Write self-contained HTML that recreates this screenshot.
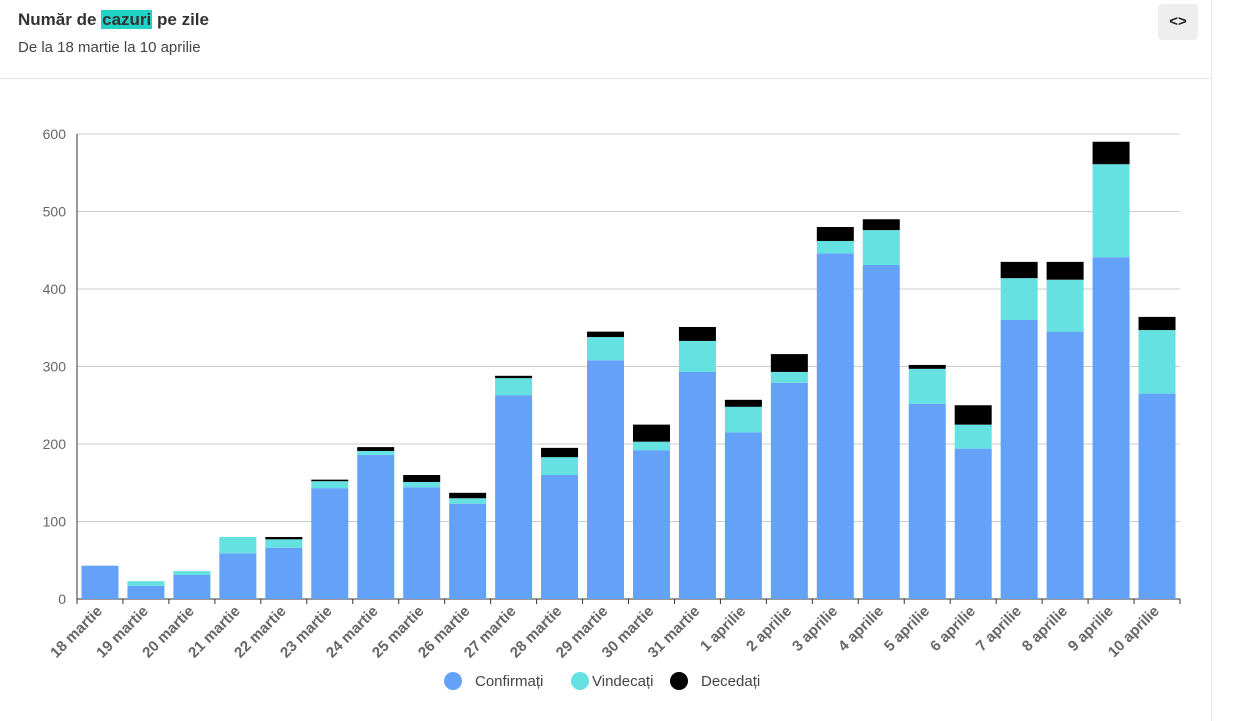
<!DOCTYPE html>
<html><head><meta charset="utf-8"><style>
body{margin:0;width:1245px;height:721px;background:#fff;font-family:"Liberation Sans",sans-serif;overflow:hidden;position:relative}
.h{position:absolute;left:18px;top:10px;font-size:17px;font-weight:900;color:#333}
.h span{background:#1fd3c6;padding:0 1px}
.s{position:absolute;left:18px;top:39px;font-size:15px;color:#444}
.btn{position:absolute;left:1158px;top:4px;width:40px;height:36px;background:#eee;border-radius:4px;text-align:center;line-height:36px;font-weight:bold;color:#222;font-size:15px}
.sep{position:absolute;left:0;top:78px;width:1211px;height:1px;background:#e6e6ee}
.vr{position:absolute;left:1211px;top:0;width:1px;height:721px;background:#e6e6ee}
</style></head><body>
<div class="h">Număr de <span>cazuri</span> pe zile</div>
<div class="s">De la 18 martie la 10 aprilie</div>
<div class="btn">&lt;&gt;</div>
<div class="sep"></div><div class="vr"></div>
<svg id="c" width="1245" height="721" style="position:absolute;left:0;top:0"></svg>
<script>
const s=document.getElementById('c');let h='';
const y0=599,k=0.775;
for(let v=0;v<=600;v+=100){const y=y0-v*k;h+=`<line x1="77" x2="1180" y1="${y}" y2="${y}" stroke="${v?'#ccc':'#333'}"/>`;h+=`<text x="66" y="${y+5}" text-anchor="end" font-size="14" fill="#666">${v}</text>`}
h+=`<line x1="77" x2="77" y1="134" y2="599" stroke="#333"/>`;
const d=[[43,43,43],[17,23,23],[31,36,36],[59,80,80],[66,77,80],[143,152,154],[186,191,196],[144,151,160],[123,130,137],[263,285,288],[160,183,195],[308,338,345],[192,203,225],[293,333,351],[215,248,257],[279,293,316],[446,462,480],[431,476,490],[252,297,302],[194,225,250],[360,414,435],[345,412,435],[441,561,590],[265,347,364]];
const L=[];for(let i=18;i<=31;i++)L.push(i+' martie');for(let i=1;i<=10;i++)L.push(i+' aprilie');
const st=(1180-77)/24;
d.forEach((r,i)=>{const x=77+st*i+(st-37)/2;const cx=77+st*(i+0.5);
const seg=[[0,r[0],'#64a2f9'],[r[0],r[1],'#64e1e0'],[r[1],r[2],'#000']];
seg.forEach(([a,b,c])=>{if(b>a)h+=`<rect x="${x}" y="${y0-b*k}" width="37" height="${(b-a)*k}" fill="${c}"/>`});
h+=`<line x1="${77+st*i}" x2="${77+st*i}" y1="599" y2="604" stroke="#333"/>`;
h+=`<text transform="translate(${cx+3},${612}) rotate(-45)" text-anchor="end" font-size="15" font-weight="bold" fill="#666">${L[i]}</text>`;});
h+=`<line x1="1180" x2="1180" y1="599" y2="604" stroke="#333"/>`;
[[453,'Confirmați','#64a2f9',475],[580,'Vindecați','#64e1e0',592],[679,'Decedați','#000',701]].forEach(([x,t,c,tx])=>{h+=`<circle cx="${x}" cy="681" r="9" fill="${c}"/><text x="${tx}" y="686" font-size="15" fill="#444">${t}</text>`});
s.innerHTML=h;
</script>
</body></html>
